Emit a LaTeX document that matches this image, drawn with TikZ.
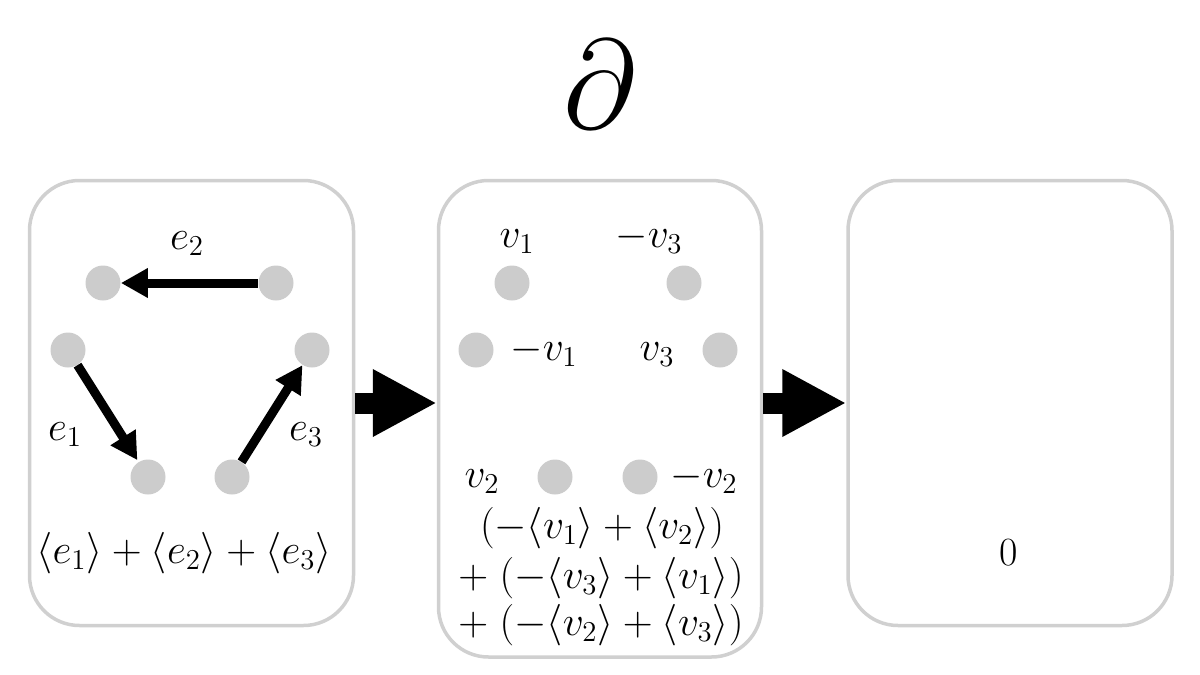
\documentclass[tikz,border=0pt]{standalone}
\usetikzlibrary{arrows.meta}
\definecolor{boxgray}{RGB}{208,208,208}
\definecolor{dotgray}{RGB}{204,204,204}
\begin{document}
\begin{tikzpicture}[x=0.5pt,y=-0.5pt,
  every node/.style={font=\fontsize{20}{24}\selectfont, inner sep=0pt},
  panel/.style={draw=boxgray, line width=1.75pt, rounded corners=25pt, fill=white, minimum width=162pt},
  dot/.style={circle, fill=dotgray, minimum size=17.5pt, inner sep=0pt},
  edgearrow/.style={line width=4.5pt, -{Triangle[length=13.5pt,width=14pt]}},
  bigarrow/.style={line width=10.5pt, -{Triangle[length=32pt,width=31.5pt]}},
  lbl/.style={anchor=base}]
\useasboundingbox (0,0) rectangle (1200,675);
% title
\node[lbl, font=\fontsize{24.88}{30}\selectfont, scale=2.55] (title) at (600,128) {$\partial$};
% panels
\node[panel, minimum height=222.5pt] (b1) at (191.5,403) {};
\node[panel, minimum height=238.25pt, minimum width=161.5pt] (b2) at (600,418.75) {};
\node[panel, minimum height=222.5pt] (b3) at (1010,403) {};
% panel 1 dots
\node[dot] (a1) at (103,283) {};
\node[dot] (a2) at (276,283) {};
\node[dot] (a3) at (68,350) {};
\node[dot] (a4) at (312,350) {};
\node[dot] (a5) at (148,477) {};
\node[dot] (a6) at (232,477) {};
\draw[edgearrow] (a2) -- (a1);
\draw[edgearrow, shorten >=1pt] (a3) -- (a5);
\draw[edgearrow] (a6) -- (a4);
\node[lbl] (le2) at (187,249) {$e_2$};
\node[lbl] (le1) at (65,440) {$e_1$};
\node[lbl] (le3) at (306,440) {$e_3$};
\node[lbl] (sum1) at (184,563) {$\langle e_1\rangle+\langle e_2\rangle+\langle e_3\rangle$};
% panel 2 dots
\node[dot] (c1) at (512,283) {};
\node[dot] (c2) at (684,283) {};
\node[dot] (c3) at (476,350) {};
\node[dot] (c4) at (720,350) {};
\node[dot] (c5) at (555,477) {};
\node[dot] (c6) at (640,477) {};
\node[lbl] (lv1) at (517,247) {$v_1$};
\node[lbl] (lmv3) at (649,247) {$-v_3$};
\node[lbl] (lmv1) at (544,360) {$-v_1$};
\node[lbl] (lv3) at (657,360) {$v_3$};
\node[lbl] (lv2) at (482,487) {$v_2$};
\node[lbl] (lmv2) at (704,487) {$-v_2$};
\node[lbl] (f1) at (602,538) {$(-\langle v_1\rangle+\langle v_2\rangle)$};
\node[lbl] (f2) at (601,588) {$+\;(-\langle v_3\rangle+\langle v_1\rangle)$};
\node[lbl] (f3) at (601,635) {$+\;(-\langle v_2\rangle+\langle v_3\rangle)$};
% panel 3
\node[lbl] (zero) at (1009,565) {0};
% big arrows
\draw[bigarrow] (b1.east) -- (b1.east -| b2.west);
\draw[bigarrow] (b2.east |- b3.west) -- (b3.west);
\end{tikzpicture}
\end{document}
